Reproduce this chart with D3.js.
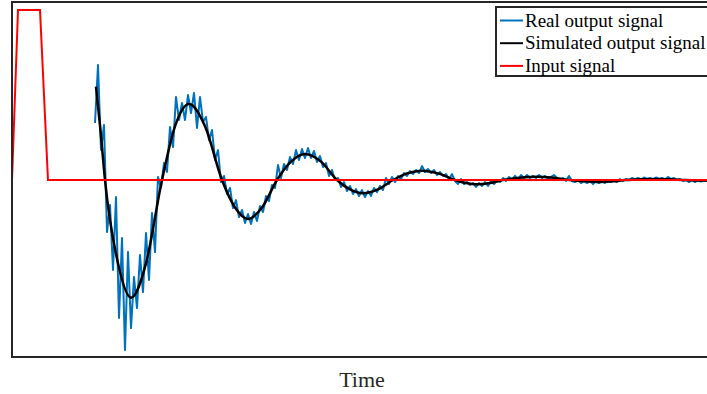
<!DOCTYPE html>
<html>
<head>
<meta charset="utf-8">
<script src="https://d3js.org/d3.v7.min.js"></script>
<style>
  body { margin: 0; background: #fff; }
  svg { display: block; }
</style>
</head>
<body>
<svg id="vimage" width="707" height="394"></svg>
<script>
//---------------------------------------- data ---------------------------------------
// time is in samples, output in % of the input step
var inputTime = [0, 6, 28, 36, 700];
var inputValues = [0, 100, 100, 0, 0];

var simTime = [84, 88.5, 93, 106, 119, 134, 150, 163, 177, 193, 210, 223, 236, 250, 265,
               279, 293, 309, 325, 338, 351, 366, 381, 395, 410, 426, 443, 454, 465, 478,
               491, 508, 525, 541, 558, 573, 588, 601, 613, 628, 643, 658, 673, 695, 700];
var simValues = [54.9, 29, 0, -49, -69.2, -49, 0, 31.6, 44.7, 31.6, 0, -16.2, -22.9, -16.2, 0,
                 10.8, 15.3, 10.8, 0, -5.5, -7.8, -5.5, 0, 3.9, 5.5, 3.9, 0, -1.8, -2.5, -1.8,
                 0, 1.3, 1.9, 1.3, 0, -0.8, -1.2, -0.8, 0, 0.4, 0.6, 0.4, 0, -0.3, -0.3];

// measured signal, one sample every 3 time units from t = 83
var realStart = 83;
var realStep = 3;
var realValues = [
  33.5, 67.6, 17.6, 32.4, -30.6, -14.7, -52.9, -10.0, -81.2, -34.1,
  -100.0, -42.4, -87.1, -57.1, -75.3, -44.1, -65.9, -31.2, -58.8, -19.4,
  -42.4, 1.8, -4.7, 10.0, 4.7, 31.2, 19.4, 48.8, 35.3, 45.3,
  35.3, 50.0, 39.4, 51.2, 30.6, 48.8, 34.1, 37.1, 23.5, 29.4,
  11.8, 17.6, -1.2, 2.4, -8.2, -4.7, -16.5, -11.8, -21.8, -17.6,
  -25.3, -20.0, -25.9, -18.8, -24.1, -15.3, -18.8, -9.4, -12.4, -2.9,
  -4.7, 8.8, 1.2, 9.4, 5.9, 13.5, 9.4, 17.6, 11.8, 18.2,
  12.9, 18.8, 12.9, 17.1, 10.6, 14.1, 7.6, 10.0, 2.4, 5.9,
  0, 1.2, -4.1, -1.2, -6.5, -3.5, -8.2, -5.3, -9.4, -5.9,
  -10.0, -6.5, -9.4, -4.7, -7.1, -3.5, -5.9, 1.2, -2.4, 1.8,
  -1.2, 2.4, 0.6, 4.1, 2.4, 5.3, 3.5, 5.9, 4.1, 8.2,
  4.7, 6.5, 4.1, 5.9, 2.9, 4.7, 2.4, 3.5, 0.6, 3.5,
  -0.6, -2.4, 0.6, -2.4, -1.2, -2.9, -1.8, -4.1, -1.8, -3.5,
  -1.2, -3.5, -0.6, -2.4, 0, -1.2, 1.2, -0.6, 1.8, 0,
  2.4, 0.6, 2.9, 1.2, 2.9, 1.2, 2.4, 1.2, 2.9, 1.2,
  2.4, 0.6, 1.8, 2.9, 1.2, 0, 1.2, -0.6, 2.4, -0.6,
  -1.2, 0, -1.8, -0.6, -1.8, -0.6, -2.4, -0.6, -1.8, -0.6,
  -1.8, 0, -1.2, 0, -1.2, 0.6, -0.6, 0.6, 0, 1.2,
  0.3, 1.2, 0.3, 1.5, 0.6, 1.2, 0.3, 1.5, 0.6, 1.2,
  0.3, 1.8, 0.6, 1.2, 0, 0.6, -0.6, 0, -1.2, 0,
  -1.2, 0, -0.9, 0, -0.6, 0
];

var legendNames = ["Real output signal", "Simulated output signal", "Input signal"];
var legendColors = ["#0072bd", "#000000", "#ff0000"];

//---------------------------------------- plot ---------------------------------------
var svg = d3.select("#vimage");
var plotLeft = 12, plotRight = 712, plotTop = 2, plotBottom = 357;

var x = d3.scaleLinear().domain([0, 700]).range([plotLeft, plotRight]);
var y = d3.scaleLinear().domain([-104.1, 104.7]).range([plotBottom, plotTop]);

svg.append("defs").append("clipPath")
    .attr("id", "plotClip")
    .append("rect")
    .attr("x", plotLeft)
    .attr("y", plotTop)
    .attr("width", plotRight - plotLeft)
    .attr("height", plotBottom - plotTop);

var plot = svg.append("g").attr("clip-path", "url(#plotClip)");

var realData = realValues.map(function(v, i) { return [realStart + i * realStep, v]; });
var simData = simTime.map(function(t, i) { return [t, simValues[i]]; });
var inputData = inputTime.map(function(t, i) { return [t, inputValues[i]]; });

var line = d3.line()
    .x(function(d) { return x(d[0]); })
    .y(function(d) { return y(d[1]); });

plot.append("path")
    .datum(realData)
    .attr("d", line)
    .attr("fill", "none")
    .attr("stroke", legendColors[0])
    .attr("stroke-width", 2)
    .attr("stroke-linejoin", "round");

plot.append("path")
    .datum(simData)
    .attr("d", line.curve(d3.curveMonotoneX))
    .attr("fill", "none")
    .attr("stroke", legendColors[1])
    .attr("stroke-width", 2.5);

plot.append("path")
    .datum(inputData)
    .attr("d", line.curve(d3.curveLinear))
    .attr("fill", "none")
    .attr("stroke", legendColors[2])
    .attr("stroke-width", 2);

// box round the axes
svg.append("rect")
    .attr("x", plotLeft)
    .attr("y", plotTop)
    .attr("width", plotRight - plotLeft)
    .attr("height", plotBottom - plotTop)
    .attr("fill", "none")
    .attr("stroke", "#262626")
    .attr("stroke-width", 2);

svg.append("text")
    .attr("x", (plotLeft + plotRight) / 2)
    .attr("y", 387)
    .attr("text-anchor", "middle")
    .style("font-family", "'Liberation Serif', 'DejaVu Serif', serif")
    .style("font-size", "22px")
    .style("fill", "#262626")
    .text("Time");

//---------------------------------------- legend ---------------------------------------
var legend = svg.append("g");

legend.append("rect")
    .attr("x", 496)
    .attr("y", 7)
    .attr("width", 216)
    .attr("height", 69)
    .attr("fill", "#fff")
    .attr("stroke", "#262626")
    .attr("stroke-width", 2);

var legendItems = legend.selectAll(".legendItem")
    .data(legendNames)
    .enter().append("g")
    .attr("class", "legendItem")
    .attr("transform", function(d, i) { return "translate(500," + (20.5 + i * 22.7) + ")"; });

legendItems.append("line")
    .attr("x1", 0)
    .attr("x2", 23)
    .attr("y1", 0)
    .attr("y2", 0)
    .attr("stroke", function(d, i) { return legendColors[i]; })
    .attr("stroke-width", 2);

legendItems.append("text")
    .attr("x", 25)
    .attr("y", 6)
    .style("font-family", "'Liberation Serif', 'DejaVu Serif', serif")
    .style("font-size", "19px")
    .style("fill", "#000")
    .text(function(d) { return d; });
</script>
</body>
</html>
